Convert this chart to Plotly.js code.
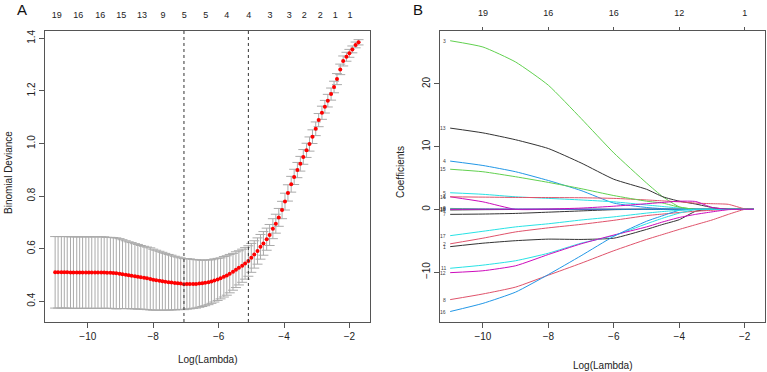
<!DOCTYPE html>
<html>
<head>
<meta charset="utf-8">
<script src="https://cdn.plot.ly/plotly-3.0.1.min.js"></script>
<style>
  html, body { margin: 0; padding: 0; background: #ffffff; }
  #chart { width: 767px; height: 372px; }
</style>
</head>
<body>
<div id="chart"></div>
<script>
// ---- Panel A: cross-validated binomial deviance along the lambda path ----
const logLambda = [
  -11.00, -10.91, -10.81, -10.72, -10.63, -10.53, -10.44, -10.34, -10.25, -10.16,
  -10.06, -9.97, -9.88, -9.78, -9.69, -9.59, -9.50, -9.41, -9.31, -9.22,
  -9.13, -9.03, -8.94, -8.84, -8.75, -8.66, -8.56, -8.47, -8.38, -8.28,
  -8.19, -8.09, -8.00, -7.91, -7.81, -7.72, -7.63, -7.53, -7.44, -7.34,
  -7.25, -7.16, -7.06, -6.97, -6.88, -6.78, -6.69, -6.59, -6.50, -6.41,
  -6.31, -6.22, -6.13, -6.03, -5.94, -5.84, -5.75, -5.66, -5.56, -5.47,
  -5.38, -5.28, -5.19, -5.09, -5.00, -4.91, -4.81, -4.72, -4.63, -4.53,
  -4.44, -4.34, -4.25, -4.16, -4.06, -3.97, -3.88, -3.78, -3.69, -3.59,
  -3.50, -3.41, -3.31, -3.22, -3.13, -3.03, -2.94, -2.84, -2.75, -2.66,
  -2.56, -2.47, -2.38, -2.28, -2.19, -2.09, -2.00, -1.91, -1.81, -1.72
];
const cvMean = [
  0.510, 0.510, 0.510, 0.510, 0.510, 0.509, 0.509, 0.509, 0.509, 0.509,
  0.509, 0.509, 0.509, 0.509, 0.509, 0.509, 0.509, 0.508, 0.508, 0.507,
  0.506, 0.505, 0.503, 0.501, 0.499, 0.497, 0.495, 0.493, 0.491, 0.489,
  0.487, 0.485, 0.482, 0.480, 0.478, 0.476, 0.474, 0.472, 0.471, 0.469,
  0.468, 0.467, 0.465, 0.466, 0.466, 0.466, 0.466, 0.467, 0.468, 0.470,
  0.472, 0.475, 0.479, 0.483, 0.487, 0.493, 0.498, 0.505, 0.512, 0.520,
  0.527, 0.535, 0.544, 0.553, 0.565, 0.578, 0.591, 0.607, 0.620, 0.636,
  0.652, 0.676, 0.695, 0.719, 0.747, 0.779, 0.812, 0.845, 0.873, 0.899,
  0.923, 0.949, 0.974, 0.998, 1.026, 1.056, 1.089, 1.117, 1.140, 1.163,
  1.188, 1.215, 1.245, 1.282, 1.314, 1.330, 1.343, 1.358, 1.375, 1.385
];
const cvSD = [
  0.136, 0.136, 0.136, 0.136, 0.136, 0.136, 0.136, 0.136, 0.136, 0.136,
  0.136, 0.136, 0.136, 0.136, 0.136, 0.136, 0.136, 0.135, 0.135, 0.135,
  0.135, 0.133, 0.131, 0.129, 0.127, 0.126, 0.124, 0.123, 0.121, 0.120,
  0.119, 0.118, 0.116, 0.114, 0.112, 0.110, 0.108, 0.106, 0.104, 0.102,
  0.100, 0.098, 0.097, 0.096, 0.095, 0.093, 0.092, 0.090, 0.088, 0.087,
  0.085, 0.083, 0.082, 0.080, 0.078, 0.077, 0.075, 0.073, 0.070, 0.068,
  0.065, 0.063, 0.060, 0.058, 0.055, 0.052, 0.050, 0.047, 0.045, 0.042,
  0.040, 0.038, 0.036, 0.034, 0.033, 0.032, 0.031, 0.030, 0.029, 0.029,
  0.028, 0.028, 0.027, 0.027, 0.026, 0.026, 0.025, 0.025, 0.024, 0.024,
  0.023, 0.022, 0.021, 0.020, 0.019, 0.017, 0.015, 0.013, 0.011, 0.010
];
// lambda.min and lambda.1se (positions in the lambda sequence)
const lambdaMinIdx = 42;
const lambda1seIdx = 63;
// number of non-zero coefficients printed along the top
const nzLambda = [-10.95, -10.29, -9.62, -8.98, -8.34, -7.70, -7.05, -6.39, -5.75, -5.08, -4.43, -3.84, -3.38, -2.89, -2.43, -1.98];
const nzCount  = ['19', '16', '16', '15', '13', '9', '5', '5', '4', '4', '3', '3', '2', '2', '1', '1'];
const devTicks = [0.4, 0.6, 0.8, 1.0, 1.2, 1.4];
const devTickText = ['0.4', '0.6', '0.8', '1.0', '1.2', '1.4'];
const lambdaTicks = [-10, -8, -6, -4, -2];

// ---- Panel B: coefficient paths ----
const pathLambda = [-11, -10, -9, -8, -7, -6, -5, -4.5, -4, -3.5, -3, -2.5, -2, -1.72];
const coef1  = [-5.95, -5.4, -5.0, -4.75, -4.8, -4.6, -3.2, -2.4, -1.65, -0.3, 0, 0, 0, 0];
const coef2  = [-5.5, -4.6, -3.6, -2.95, -2.4, -1.75, -1.0, -0.75, -0.5, -0.3, -0.15, -0.02, 0, 0];
const coef3  = [26.9, 25.9, 23.5, 19.8, 14.5, 9.0, 4.2, 2.0, 0.4, 0, 0, 0, 0, 0];
const coef4  = [7.7, 7.0, 6.0, 4.6, 3.0, 1.0, 0.3, 0.1, 0, 0, 0, 0, 0, 0];
const coef5  = [2.65, 2.4, 2.0, 1.75, 1.5, 1.2, 0.7, 0.45, 0.2, 0, 0, 0, 0, 0];
const coef6  = [2.0, 1.2, 0, 0, 0, 0, 0, 0, 0, 0, 0, 0, 0, 0];
const coef7  = [-0.8, -0.75, -0.65, -0.45, -0.25, -0.05, 0, 0, 0, 0, 0, 0, 0, 0];
const coef8  = [-14.4, -13.5, -12.4, -10.5, -8.6, -6.6, -4.8, -4.0, -3.2, -2.45, -1.7, -0.8, 0, 0];
const coef9  = [0.15, 0.05, 0, 0, 0, 0, 0, 0, 0, 0, 0, 0, 0, 0];
const coef10 = [0.05, 0.05, 0.05, 0.04, 0.03, 0.02, 0.01, 0, 0, 0, 0, 0, 0, 0];
const coef11 = [-9.4, -8.9, -8.2, -7.0, -5.4, -4.2, -2.3, -1.4, -0.6, -0.05, 0, 0, 0, 0];
const coef12 = [-10.1, -9.8, -9.0, -7.2, -5.5, -4.1, -2.8, -2.0, -1.3, -0.8, -0.4, -0.05, 0, 0];
const coef13 = [12.96, 12.2, 11.1, 9.7, 7.4, 4.8, 3.2, 2.0, 1.3, 0.85, 0.3, 0, 0, 0];
const coef14 = [2.0, 1.95, 1.9, 1.88, 1.85, 1.75, 1.5, 1.35, 1.2, 1.0, 0.9, 0.8, 0.08, 0];
const coef15 = [6.4, 6.0, 5.2, 4.3, 3.3, 2.2, 1.3, 1.0, 0.35, 0, 0, 0, 0, 0];
const coef16 = [-16.3, -15.0, -13.2, -10.4, -7.4, -4.3, -1.9, -1.0, -0.15, 0, 0, 0, 0, 0];
const coef17 = [-4.2, -3.5, -2.8, -2.3, -1.7, -1.2, -0.6, -0.35, -0.15, 0, 0, 0, 0, 0];
const coef18 = [0, 0.02, 0.02, 0.05, 0.2, 0.5, 0.9, 1.1, 1.3, 1.25, 0.3, 0, 0, 0];
const coef19 = [-0.1, -0.05, -0.02, 0, 0, 0, 0, 0, 0, 0, 0, 0, 0, 0];
const coefPaths = [coef1, coef2, coef3, coef4, coef5, coef6, coef7, coef8, coef9, coef10,
                   coef11, coef12, coef13, coef14, coef15, coef16, coef17, coef18, coef19];
const coefNames = ['1','2','3','4','5','6','7','8','9','10','11','12','13','14','15','16','17','18','19'];
const coefTicks = [-10, 0, 10, 20];
const dfLambda = [-10, -8, -6, -4, -2];
const dfCount = ['19', '16', '16', '12', '1'];

// R-style default palette, recycled over the variables (black softened a little)
const palette = ['#333333', '#DF536B', '#61D04F', '#2297E6', '#28E2E5', '#CD0BBC'];
// paths that sit on zero almost everywhere go underneath the others
const drawOrder = [8, 18, 0, 1, 2, 3, 4, 5, 6, 7, 9, 10, 11, 12, 13, 14, 15, 16, 17];

const FONT = 'Liberation Sans, Arial, Helvetica, sans-serif';
const INK = '#222222';
const FRAME = '#555555';

const domXA = [0.05867, 0.48240];
const domXB = [0.57327, 0.99700];
const domY  = [0.13441, 0.91667];

const traces = [];

traces.push({
  type: 'scatter', mode: 'markers',
  x: logLambda, y: cvMean,
  xaxis: 'x', yaxis: 'y',
  marker: { color: '#FF0000', size: 4 },
  error_y: { type: 'data', array: cvSD, visible: true, color: '#AAAAAA', thickness: 1, width: 5 },
  showlegend: false, hoverinfo: 'skip'
});
// carrier for the top count axis of panel A
traces.push({ type: 'scatter', mode: 'markers', x: [], y: [], xaxis: 'x2', yaxis: 'y', showlegend: false, hoverinfo: 'skip' });

drawOrder.forEach(k => {
  traces.push({
    type: 'scatter', mode: 'lines',
    x: pathLambda, y: coefPaths[k],
    xaxis: 'x3', yaxis: 'y3',
    line: { color: palette[k % 6], width: 1, shape: 'spline', smoothing: 0.5 },
    showlegend: false, hoverinfo: 'skip'
  });
});
// carrier for the top df axis of panel B
traces.push({ type: 'scatter', mode: 'markers', x: [], y: [], xaxis: 'x4', yaxis: 'y3', showlegend: false, hoverinfo: 'skip' });

const baseAxis = {
  showgrid: false, zeroline: false,
  showline: true, mirror: true, linecolor: FRAME, linewidth: 1,
  ticks: 'outside', ticklen: 5, tickwidth: 1, tickcolor: FRAME,
  tickfont: { family: FONT, size: 10, color: INK }
};

const annotations = [
  { text: 'Log(Lambda)', xref: 'paper', yref: 'paper', x: (domXA[0] + domXA[1]) / 2, y: 0.0349,
    showarrow: false, xanchor: 'center', yanchor: 'middle', font: { family: FONT, size: 10, color: INK } },
  { text: 'Log(Lambda)', xref: 'paper', yref: 'paper', x: (domXB[0] + domXB[1]) / 2, y: 0.0188,
    showarrow: false, xanchor: 'center', yanchor: 'middle', font: { family: FONT, size: 10, color: INK } },
  { text: 'Binomial Deviance', xref: 'paper', yref: 'paper', x: 0.0104, y: 0.5376, textangle: -90,
    showarrow: false, xanchor: 'center', yanchor: 'middle', font: { family: FONT, size: 10, color: INK } },
  { text: 'Coefficients', xref: 'paper', yref: 'paper', x: 0.5215, y: 0.5376, textangle: -90,
    showarrow: false, xanchor: 'center', yanchor: 'middle', font: { family: FONT, size: 10, color: INK } },
  { text: 'A', xref: 'paper', yref: 'paper', x: 0.0287, y: 0.9758,
    showarrow: false, xanchor: 'center', yanchor: 'middle', font: { family: FONT, size: 15, color: '#111' } },
  { text: 'B', xref: 'paper', yref: 'paper', x: 0.545, y: 0.9758,
    showarrow: false, xanchor: 'center', yanchor: 'middle', font: { family: FONT, size: 15, color: '#111' } }
];
// variable numbers at the left end of each path
coefPaths.forEach((path, k) => {
  annotations.push({
    text: coefNames[k], xref: 'x3', yref: 'y3', x: pathLambda[0], y: path[0],
    showarrow: false, xanchor: 'right', yanchor: 'middle', xshift: -2,
    font: { family: FONT, size: 5, color: '#444' }
  });
});

const shapes = [lambdaMinIdx, lambda1seIdx].map(i => ({
  type: 'line', xref: 'x', yref: 'y domain',
  x0: logLambda[i], x1: logLambda[i], y0: 0, y1: 1,
  line: { color: '#333333', width: 1, dash: '3px,3px' }
}));

const layout = {
  width: 767, height: 372,
  margin: { l: 0, r: 0, t: 0, b: 0 },
  paper_bgcolor: '#ffffff', plot_bgcolor: '#ffffff',
  font: { family: FONT, color: INK },
  showlegend: false,
  xaxis: Object.assign({}, baseAxis, {
    domain: domXA, anchor: 'y', range: [-11.31, -1.37], tickvals: lambdaTicks
  }),
  yaxis: Object.assign({}, baseAxis, {
    domain: domY, anchor: 'x', range: [0.321, 1.428], tickvals: devTicks, ticktext: devTickText, tickangle: -90
  }),
  xaxis2: {
    overlaying: 'x', side: 'top', anchor: 'y', range: [-11.31, -1.37],
    tickmode: 'array', tickvals: nzLambda, ticktext: nzCount,
    ticks: '', showline: false, showgrid: false, zeroline: false,
    ticklabelstandoff: 10,
    tickfont: { family: FONT, size: 9, color: INK }
  },
  xaxis3: Object.assign({}, baseAxis, {
    domain: domXB, anchor: 'y3', range: [-11.32, -1.39], tickvals: lambdaTicks
  }),
  yaxis3: Object.assign({}, baseAxis, {
    domain: domY, anchor: 'x3', range: [-17.97, 28.45], tickvals: coefTicks, tickangle: -90
  }),
  xaxis4: {
    overlaying: 'x3', side: 'top', anchor: 'y3', range: [-11.32, -1.39],
    tickmode: 'array', tickvals: dfLambda, ticktext: dfCount,
    ticks: 'outside', ticklen: 3, tickcolor: FRAME, tickwidth: 1,
    showline: false, showgrid: false, zeroline: false,
    ticklabelstandoff: 7,
    tickfont: { family: FONT, size: 9, color: INK }
  },
  shapes: shapes,
  annotations: annotations
};

Plotly.newPlot('chart', traces, layout, { staticPlot: true, displayModeBar: false });
</script>
</body>
</html>
